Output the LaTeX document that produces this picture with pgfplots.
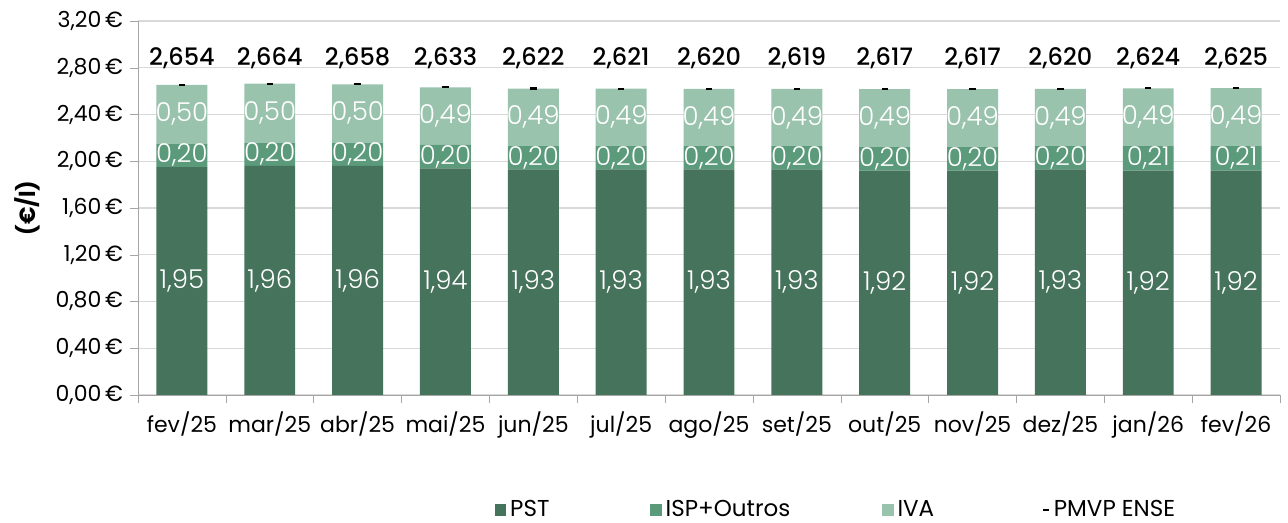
\documentclass[border=0pt]{standalone}
\usepackage{pgfplots}
\pgfplotsset{compat=1.18}
\usepackage{pgfplotstable}
\usetikzlibrary{calc}
\usepackage{fontspec}
\setmainfont{Poppins}
\newfontfamily\lightfont{Poppins Light}
\newfontfamily\medfont{Poppins Medium}
\definecolor{pst}{HTML}{46735C}
\definecolor{isp}{HTML}{5B9A7A}
\definecolor{iva}{HTML}{9AC3AE}
\definecolor{gridc}{HTML}{D9D9D9}
\definecolor{axc}{HTML}{A6A6A6}
\pgfplotstableread{
x pst pstl isp ispl iva ival tot totl
0  1.95 1,95 0.20 0,20 0.504 0,50 2.654 2,654
1  1.96 1,96 0.20 0,20 0.504 0,50 2.664 2,664
2  1.96 1,96 0.20 0,20 0.498 0,50 2.658 2,658
3  1.94 1,94 0.20 0,20 0.493 0,49 2.633 2,633
4  1.93 1,93 0.20 0,20 0.492 0,49 2.622 2,622
5  1.93 1,93 0.20 0,20 0.491 0,49 2.621 2,621
6  1.93 1,93 0.20 0,20 0.490 0,49 2.620 2,620
7  1.93 1,93 0.20 0,20 0.489 0,49 2.619 2,619
8  1.92 1,92 0.20 0,20 0.497 0,49 2.617 2,617
9  1.92 1,92 0.20 0,20 0.497 0,49 2.617 2,617
10 1.93 1,93 0.20 0,20 0.490 0,49 2.620 2,620
11 1.92 1,92 0.21 0,21 0.494 0,49 2.624 2,624
12 1.92 1,92 0.21 0,21 0.495 0,49 2.625 2,625
}\datatable
\pgfplotsset{
  base/.style={
    width=571pt, height=187pt, scale only axis,
    xmin=-0.5, xmax=12.5, ymin=0, ymax=3.2,
  }
}
\begin{document}
\begin{tikzpicture}
\begin{axis}[base, name=ax,
  ybar stacked, bar width=0.58,
  axis x line*=bottom, axis y line*=left,
  axis line style={axc},
  xtick={0,...,12},
  xticklabels={fev/25,mar/25,abr/25,mai/25,jun/25,jul/25,ago/25,set/25,out/25,nov/25,dez/25,jan/26,fev/26},
  major x tick style={draw=none},
  minor xtick={-0.5,0.5,...,12.5},
  minor x tick style={axc},
  minor tick length=4pt,
  x tick label style={font=\fontsize{11}{13}\selectfont, yshift=-1pt},
  ytick={0,0.4,...,3.21},
  ymajorgrids, grid style={gridc, line width=0.6pt},
  y tick style={axc},
  major tick length=4pt,
  tick align=outside,
  yticklabel={\pgfmathprintnumber[fixed,fixed zerofill,precision=2,use comma]{\tick}\,€},
  y tick label style={font=\fontsize{11}{13}\selectfont},
  /pgf/number format/assume math mode=true,
  ylabel={\bfseries (€/l)},
  ylabel style={at={(axis description cs:-0.097,0.5)}, anchor=center, font=\fontsize{11}{13}\selectfont},
  point meta=explicit symbolic,
  nodes near coords,
  every node near coord/.append style={font=\lightfont\fontsize{13}{15}\selectfont, text=white, anchor=center},
]
\addplot[fill=pst, draw=none] table[x=x, y=pst, meta=pstl] {\datatable};
\addplot[fill=isp, draw=none] table[x=x, y=isp, meta=ispl] {\datatable};
\addplot[fill=iva, draw=none] table[x=x, y=iva, meta=ival] {\datatable};
\end{axis}
\begin{axis}[base,
  axis lines=none,
  legend columns=4,
  legend style={draw=none, at={(0.307,-0.307)}, anchor=west, font=\fontsize{11.5}{13}\selectfont,
    /tikz/column 2/.style={column sep=48.5pt},
    /tikz/column 4/.style={column sep=44pt},
    /tikz/column 6/.style={column sep=52pt}},
  legend cell align=left,
]
\addlegendimage{legend image code/.code={\fill[pst] (0pt,-2.6pt) rectangle (5.2pt,2.6pt);}}
\addlegendentry{PST}
\addlegendimage{legend image code/.code={\fill[isp] (0pt,-2.6pt) rectangle (5.2pt,2.6pt);}}
\addlegendentry{ISP+Outros}
\addlegendimage{legend image code/.code={\fill[iva] (0pt,-2.6pt) rectangle (5.2pt,2.6pt);}}
\addlegendentry{IVA}
\addplot[only marks, mark=-, mark size=1.6pt, mark options={line width=1.1pt, black},
  legend image code/.code={\draw[black, line width=0.8pt] (0pt,0pt) -- (3pt,0pt);}] table[x=x, y=tot] {\datatable};
\addlegendentry{PMVP ENSE}
\addplot[only marks, mark=none, point meta=explicit symbolic, nodes near coords,
  every node near coord/.append style={font=\medfont\fontsize{12}{14}\selectfont, text=black, anchor=center}]
  table[x=x, y expr=2.88, meta=totl] {\datatable};
\end{axis}
\pgfresetboundingbox
\path ($(ax.south west)+(-69pt,-64pt)$) rectangle ($(ax.north east)+(4pt,10.5pt)$);
\end{tikzpicture}
\end{document}
